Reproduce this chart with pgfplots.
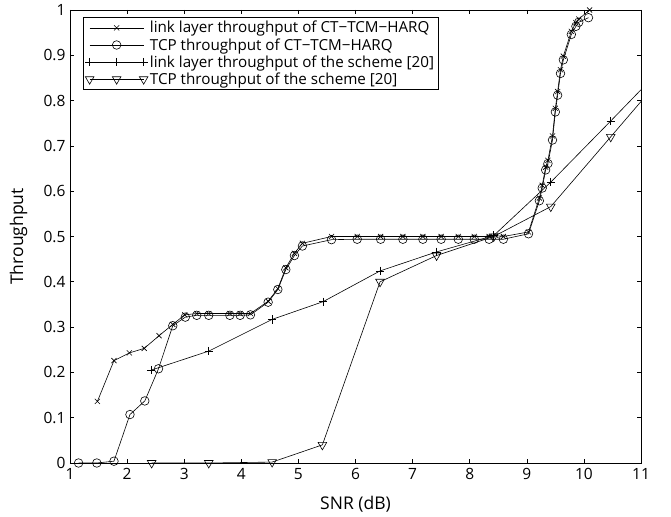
\documentclass[border=0pt]{standalone}
\usepackage{fontspec}
\setmainfont{Open Sans}
\usepackage{pgfplots}
\pgfplotsset{compat=1.18}
\begin{document}
\begin{tikzpicture}
\path[use as bounding box] (-70bp,-54bp) rectangle (601bp,463bp);
\begin{axis}[
  at={(0,0)}, anchor=south west,
  scale only axis, width=571bp, height=453bp,
  xmin=1, xmax=11, ymin=0, ymax=1,
  xtick={1,2,3,4,5,6,7,8,9,10,11},
  ytick={0,0.1,0.2,0.3,0.4,0.5,0.6,0.7,0.8,0.9,1},
  tick align=inside, major tick length=4bp,
  tick style={line width=0.6bp, black},
  axis line style={line width=0.8bp},
  /pgf/number format/assume math mode=true,
  tick label style={font=\fontsize{15.5bp}{18bp}\selectfont},
  xticklabel style={yshift=-2bp},
  yticklabel style={xshift=-1bp},
  label style={font=\fontsize{17.5bp}{20bp}\selectfont},
  xlabel={SNR (dB)}, ylabel={Throughput},
  xlabel style={at={(axis description cs:0.5,-0.09)}, anchor=center},
  ylabel style={at={(axis description cs:-0.09,0.5)}, anchor=center},
  legend style={at={(rel axis cs:0.0228,0.9845)}, anchor=north west,
    draw=black, line width=0.6bp, fill=white,
    font=\fontsize{15.2bp}{17.9bp}\selectfont, inner sep=2bp,
    row sep=0bp},
  legend cell align=left,
  legend image code/.code={
    \draw[mark repeat=2,mark phase=2] plot coordinates {(0bp,0bp) (27bp,0bp) (54bp,0bp)};
  },
  every axis plot/.append style={black, line width=0.6bp, mark options={solid, line width=0.6bp}},
]
% link layer throughput of CT-TCM-HARQ
\addplot[mark=x, mark size=3.6bp] coordinates {
 (1.48,0.136) (1.77,0.226) (2.04,0.243) (2.30,0.253) (2.56,0.281) (2.80,0.306)
 (3.01,0.327) (3.22,0.330) (3.43,0.330) (3.80,0.330) (3.98,0.330) (4.16,0.330)
 (4.47,0.357) (4.64,0.385) (4.78,0.431) (4.93,0.463) (5.07,0.485) (5.58,0.500)
 (6.03,0.500) (6.44,0.500) (6.83,0.500) (7.18,0.500) (7.50,0.500) (7.80,0.500)
 (8.08,0.500) (8.34,0.500) (8.46,0.502) (8.59,0.500) (9.03,0.510) (9.22,0.585)
 (9.27,0.613) (9.33,0.653) (9.37,0.668) (9.45,0.722) (9.50,0.783) (9.54,0.820)
 (9.59,0.868) (9.64,0.898) (9.78,0.953) (9.86,0.972) (9.91,0.980) (10.10,1.000)
};
\addlegendentry{link layer throughput of CT−TCM−HARQ}
% TCP throughput of CT-TCM-HARQ
\addplot[mark=o, mark size=4.3bp] coordinates {
 (1.15,0.000) (1.47,0.000) (1.77,0.004) (2.05,0.107) (2.31,0.137) (2.55,0.208)
 (2.80,0.303) (3.02,0.322) (3.22,0.326) (3.43,0.326) (3.80,0.326) (3.98,0.326)
 (4.16,0.327) (4.47,0.355) (4.64,0.383) (4.78,0.427) (4.93,0.458) (5.07,0.479)
 (5.58,0.493) (6.03,0.494) (6.44,0.494) (6.83,0.494) (7.18,0.494) (7.50,0.494)
 (7.80,0.494) (8.08,0.494) (8.34,0.494) (8.59,0.494) (9.03,0.506) (9.22,0.579)
 (9.27,0.607) (9.33,0.647) (9.37,0.661) (9.45,0.713) (9.50,0.775) (9.54,0.812)
 (9.59,0.860) (9.64,0.890) (9.78,0.946) (9.86,0.964) (9.91,0.973) (10.08,0.983)
};
\addlegendentry{TCP throughput of CT−TCM−HARQ}
% link layer throughput of the scheme [20]
\addplot[mark=+, mark size=4.2bp, mark indices={1,2,3,4,5,6,7,8,9}] coordinates {
 (2.42,0.205) (3.43,0.247) (4.54,0.317) (5.43,0.356) (6.43,0.424) (7.42,0.466)
 (8.42,0.502) (9.42,0.620) (10.47,0.755) (11.00,0.824)
};
\addlegendentry{link layer throughput of the scheme [20]}
% TCP throughput of the scheme [20]
\addplot[mark=triangle, mark size=5bp, mark options={rotate=180}, mark indices={1,2,3,4,5,6,7,8,9}] coordinates {
 (2.43,0.000) (3.43,0.000) (4.54,0.002) (5.42,0.040) (6.43,0.400) (7.42,0.458)
 (8.42,0.500) (9.42,0.566) (10.47,0.720) (11.00,0.798)
};
\addlegendentry{TCP throughput of the scheme [20]}
\end{axis}
\end{tikzpicture}
\end{document}
